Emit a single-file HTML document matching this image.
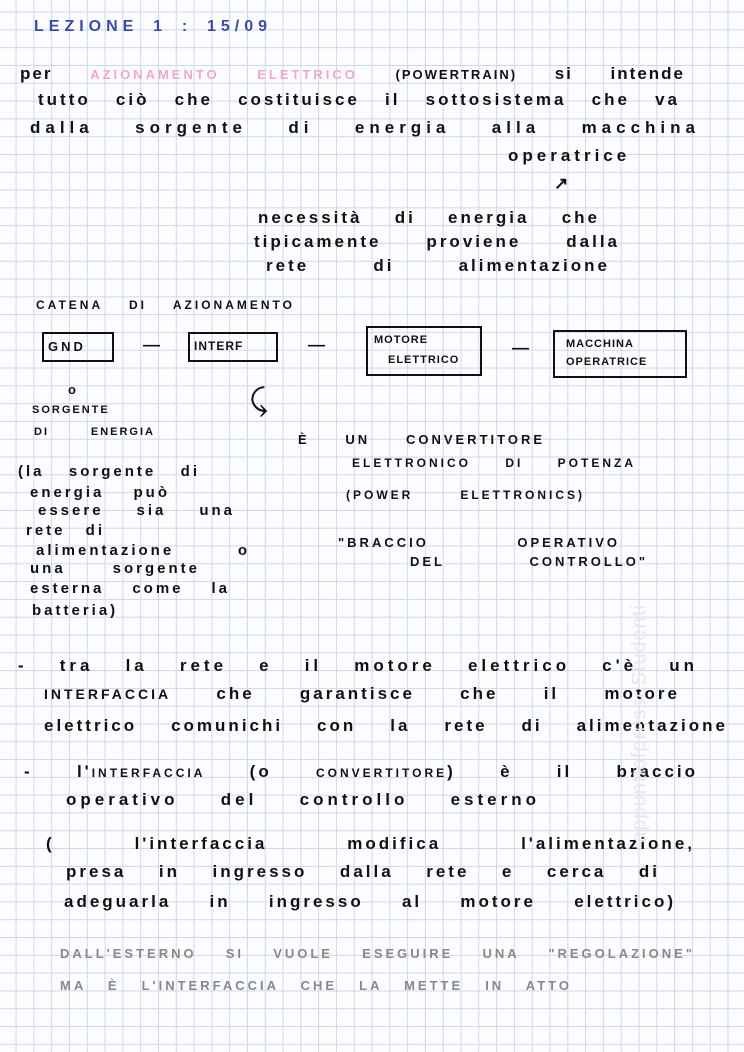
<!DOCTYPE html>
<html><head><meta charset="utf-8"><style>
body{margin:0;width:744px;height:1052px;overflow:hidden;position:relative;background-color:#fdfdff;
background-image:linear-gradient(to right,#c9d9f0 1px,transparent 1px),linear-gradient(to bottom,#c9d9f0 1px,transparent 1px);
background-size:17.8px 17.8px;background-position:15.6px 11.6px;font-family:"Liberation Sans",sans-serif;color:#111}
.t{position:absolute;white-space:nowrap;font-size:17px;letter-spacing:2px;font-weight:bold}
.j{white-space:normal;text-align:justify;text-align-last:justify;letter-spacing:3px}
.c{font-size:13px;letter-spacing:3px}
.b{position:absolute;border:2px solid #111}
</style></head><body>
<div class="t j" style="left:34px;top:18px;width:238px;color:#3b4aa8;font-size:16px;letter-spacing:5px">LEZIONE 1 : 15/09</div>
<div class="t j" style="left:20px;top:64px;width:665px;letter-spacing:2px">per <span style="color:#f0a8c8;font-size:13px;letter-spacing:3px">AZIONAMENTO ELETTRICO</span> <span style="font-size:13px">(POWERTRAIN)</span> si intende</div>
<div class="t j" style="left:38px;top:90px;width:642px">tutto ciò che costituisce il sottosistema che va</div>
<div class="t j" style="left:30px;top:118px;width:670px;letter-spacing:5px">dalla sorgente di energia alla macchina</div>
<div class="t" style="left:508px;top:146px;letter-spacing:4px">operatrice</div>
<div class="t" style="left:554px;top:174px">↗</div>
<div class="t j" style="left:258px;top:208px;width:342px">necessità di energia che</div>
<div class="t j" style="left:254px;top:232px;width:366px">tipicamente proviene dalla</div>
<div class="t j" style="left:266px;top:256px;width:344px">rete di alimentazione</div>
<div class="t j" style="left:36px;top:298px;width:259px;font-size:12px">CATENA DI AZIONAMENTO</div>
<div class="b" style="left:42px;top:332px;width:68px;height:26px"></div><div class="t c" style="left:48px;top:339px">GND</div>
<div class="t" style="left:143px;top:335px">—</div>
<div class="b" style="left:188px;top:332px;width:86px;height:26px"></div><div class="t c" style="left:194px;top:339px;font-size:12px;letter-spacing:1px">INTERF</div>
<div class="t" style="left:308px;top:335px">—</div>
<div class="b" style="left:366px;top:326px;width:112px;height:46px"></div><div class="t c" style="left:374px;top:334px;font-size:11px;letter-spacing:1px">MOTORE</div><div class="t c" style="left:388px;top:354px;font-size:11px;letter-spacing:1px">ELETTRICO</div>
<div class="t" style="left:512px;top:338px">—</div>
<div class="b" style="left:553px;top:330px;width:130px;height:44px"></div><div class="t c" style="left:566px;top:338px;font-size:11px;letter-spacing:1px">MACCHINA</div><div class="t c" style="left:566px;top:356px;font-size:11px;letter-spacing:1px">OPERATRICE</div>
<div class="t c" style="left:68px;top:382px">o</div>
<div class="t c" style="left:32px;top:404px;font-size:11px;letter-spacing:2px">SORGENTE</div>
<div class="t j" style="left:34px;top:426px;width:121px;font-size:11px;letter-spacing:2px">DI ENERGIA</div>
<div class="t" style="left:250px;top:384px;font-size:30px;font-weight:normal">⤹</div>
<div class="t j" style="left:298px;top:432px;width:247px;font-size:13px">È UN CONVERTITORE</div>
<div class="t j" style="left:352px;top:456px;width:284px;font-size:12px">ELETTRONICO DI POTENZA</div>
<div class="t j" style="left:346px;top:488px;width:239px;font-size:12px">(POWER ELETTRONICS)</div>
<div class="t j" style="left:338px;top:535px;width:282px;font-size:13px">"BRACCIO OPERATIVO</div>
<div class="t j" style="left:410px;top:554px;width:238px;font-size:13px">DEL CONTROLLO"</div>
<div class="t j" style="left:18px;top:463px;width:182px;font-size:15px">(la sorgente di</div>
<div class="t j" style="left:30px;top:484px;width:140px;font-size:15px">energia può</div>
<div class="t j" style="left:38px;top:502px;width:197px;font-size:15px">essere sia una</div>
<div class="t j" style="left:26px;top:522px;width:79px;font-size:15px">rete di</div>
<div class="t j" style="left:36px;top:542px;width:214px;font-size:15px">alimentazione o</div>
<div class="t j" style="left:30px;top:560px;width:170px;font-size:15px">una sorgente</div>
<div class="t j" style="left:30px;top:580px;width:200px;font-size:15px">esterna come la</div>
<div class="t" style="left:32px;top:602px;font-size:15px;letter-spacing:3px">batteria)</div>
<div class="t j" style="left:18px;top:656px;width:680px;letter-spacing:4px">- tra la rete e il motore elettrico c'è un</div>
<div class="t j" style="left:44px;top:684px;width:636px"><span style="font-size:14px;letter-spacing:3px">INTERFACCIA</span> che garantisce che il motore</div>
<div class="t j" style="left:44px;top:716px;width:684px">elettrico comunichi con la rete di alimentazione</div>
<div class="t j" style="left:24px;top:762px;width:674px">- l'<span style="font-size:12px;letter-spacing:3px">INTERFACCIA</span> (o <span style="font-size:12px;letter-spacing:3px">CONVERTITORE</span>) è il braccio</div>
<div class="t j" style="left:66px;top:790px;width:474px;letter-spacing:4px">operativo del controllo esterno</div>
<div class="t j" style="left:46px;top:834px;width:649px">( l'interfaccia modifica l'alimentazione,</div>
<div class="t j" style="left:66px;top:862px;width:594px">presa in ingresso dalla rete e cerca di</div>
<div class="t j" style="left:64px;top:892px;width:612px">adeguarla in ingresso al motore elettrico)</div>
<div class="t j" style="left:60px;top:946px;width:635px;color:#888;font-size:13px">DALL'ESTERNO SI VUOLE ESEGUIRE UNA "REGOLAZIONE"</div>
<div class="t j" style="left:60px;top:978px;width:512px;color:#888;font-size:13px">MA È L'INTERFACCIA CHE LA METTE IN ATTO</div>
<div class="t" style="left:440px;top:712px;transform:rotate(-90deg);transform-origin:center;width:400px;text-align:center;color:#e6e6ee;font-size:20px;font-weight:normal;letter-spacing:1px">appuntiofpressoStudenti</div>
</body></html>
